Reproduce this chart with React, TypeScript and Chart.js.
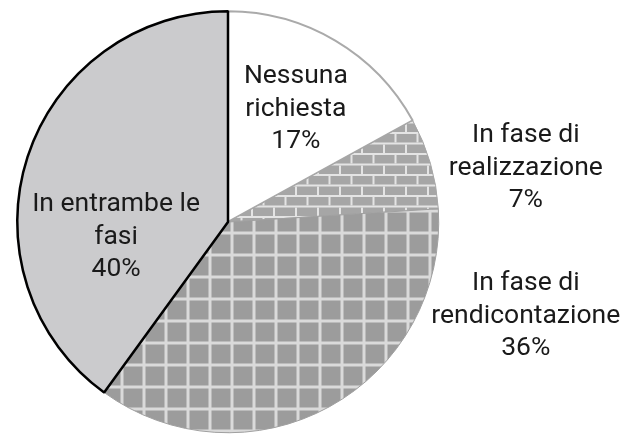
import React, { useEffect, useRef } from "react";
import { Chart, registerables } from "chart.js";

Chart.register(...registerables);

const categories: string[][] = [
  ["Nessuna", "richiesta"],
  ["In fase di", "realizzazione"],
  ["In fase di", "rendicontazione"],
  ["In entrambe le", "fasi"],
];
const values: number[] = [17, 7, 36, 40];

// label anchor offsets relative to pie centre, as a fraction of the radius
const labelOffsets: [number, number][] = [
  [0.322, -0.536],
  [1.413, -0.256],
  [1.413, 0.446],
  [-0.531, 0.071],
];

function makeGrid(): CanvasPattern | string {
  const c = document.createElement("canvas");
  c.width = 22;
  c.height = 22;
  const g = c.getContext("2d")!;
  g.fillStyle = "#9c9c9c";
  g.fillRect(0, 0, 22, 22);
  g.fillStyle = "#dadada";
  g.fillRect(10.5, 0, 3, 22);
  g.fillRect(0, 11.5, 22, 3);
  const ctx = document.createElement("canvas").getContext("2d")!;
  return ctx.createPattern(c, "repeat") || "#9c9c9c";
}

function makeBrick(): CanvasPattern | string {
  const c = document.createElement("canvas");
  c.width = 22;
  c.height = 21;
  const g = c.getContext("2d")!;
  g.fillStyle = "#a6a6a6";
  g.fillRect(0, 0, 22, 21);
  g.fillStyle = "#e4e4e4";
  g.fillRect(0, 6, 22, 2);
  g.fillRect(0, 16.5, 22, 2);
  g.fillRect(20.5, 8, 1.5, 8.5);
  g.fillRect(0, 8, 0.5, 8.5);
  g.fillRect(9, 18.5, 2, 2.5);
  g.fillRect(9, 0, 2, 6);
  const ctx = document.createElement("canvas").getContext("2d")!;
  return ctx.createPattern(c, "repeat") || "#a6a6a6";
}

const labelPlugin = {
  id: "sliceLabels",
  afterDatasetsDraw(chart: any) {
    const meta = chart.getDatasetMeta(0);
    const arc0 = meta.data[0] as any;
    if (!arc0) return;
    const cx = arc0.x;
    const cy = arc0.y;
    const r = arc0.outerRadius;
    const ctx = chart.ctx as CanvasRenderingContext2D;
    ctx.save();
    ctx.font = "26.5px Roboto, 'DejaVu Sans', sans-serif";
    ctx.fillStyle = "#1a1a1a";
    ctx.textAlign = "center";
    ctx.textBaseline = "middle";
    const lh = 32.5;
    categories.forEach((lines, i) => {
      const all = [...lines, values[i] + "%"];
      const x = cx + labelOffsets[i][0] * r;
      const y = cy + labelOffsets[i][1] * r;
      const top = y - ((all.length - 1) * lh) / 2;
      all.forEach((t, j) => ctx.fillText(t, x, top + j * lh));
    });
    ctx.restore();
  },
};

export default function App() {
  const ref = useRef<HTMLCanvasElement>(null);
  useEffect(() => {
    if (!ref.current) return;
    const chart = new Chart(ref.current, {
      type: "pie",
      data: {
        labels: categories.map((l) => l.join(" ")),
        datasets: [
          {
            data: values,
            backgroundColor: ["#ffffff", makeBrick(), makeGrid(), "#cbcbcd"],
            borderColor: ["#aaaaaa", "#a6a6a6", "#a0a0a0", "#000000"],
            borderWidth: [2, 1, 1, 2.5],
          } as any,
        ],
      },
      options: {
        responsive: false,
        animation: false,
        layout: { padding: { left: 16, right: 181, top: 10, bottom: 0 } },
        plugins: { legend: { display: false }, tooltip: { enabled: false } },
      },
      plugins: [labelPlugin],
    });
    return () => chart.destroy();
  }, []);
  return (
    <div style={{ position: "absolute", left: 0, top: 0, width: 621, height: 434, background: "#fff" }}>
      <canvas ref={ref} width={621} height={434} style={{ display: "block" }} />
    </div>
  );
}
